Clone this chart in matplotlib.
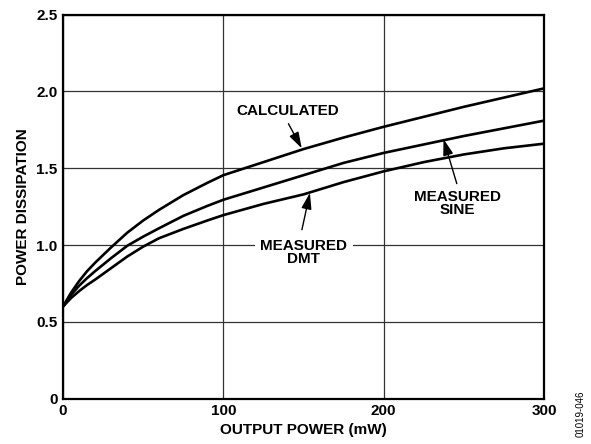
import matplotlib.pyplot as plt

plt.rcParams['font.family'] = ['Liberation Sans', 'DejaVu Sans']

output_mw = [0, 5, 10, 15, 20, 30, 40, 50, 60, 75, 90, 100, 125, 150, 175, 200, 225, 250, 275, 300]
calculated = [0.6, 0.69, 0.765, 0.83, 0.885, 0.985, 1.08, 1.16, 1.23, 1.325, 1.405, 1.455, 1.54, 1.625,
              1.70, 1.77, 1.835, 1.90, 1.96, 2.02]
measured_sine = [0.6, 0.675, 0.735, 0.785, 0.83, 0.915, 0.995, 1.055, 1.11, 1.19, 1.255, 1.295, 1.375,
                 1.455, 1.535, 1.60, 1.655, 1.71, 1.76, 1.81]
measured_dmt = [0.6, 0.655, 0.70, 0.74, 0.775, 0.85, 0.925, 0.99, 1.045, 1.105, 1.16, 1.195, 1.268,
                1.33, 1.41, 1.48, 1.54, 1.59, 1.63, 1.66]

x_ticks = [0, 100, 200, 300]
y_ticks = [0, 0.5, 1.0, 1.5, 2.0, 2.5]
y_tick_labels = ['0', '0.5', '1.0', '1.5', '2.0', '2.5']

fig = plt.figure(figsize=(5.91, 4.44), dpi=100)
ax = fig.add_axes([0.1066, 0.102, 0.8139, 0.865])

for series in [calculated, measured_sine, measured_dmt]:
    ax.plot(output_mw, series, color='black', lw=1.9, solid_capstyle='round',
            solid_joinstyle='round', zorder=3)

ax.set_xlim(0, 300)
ax.set_ylim(0, 2.5)
ax.set_xticks(x_ticks)
ax.set_yticks(y_ticks)
ax.set_yticklabels(y_tick_labels)
ax.tick_params(length=0, labelsize=11, pad=4)
for lbl in ax.get_xticklabels() + ax.get_yticklabels():
    lbl.set_fontweight('bold')
ax.grid(True, color='#333333', lw=0.9, zorder=1)
for spine in ax.spines.values():
    spine.set_linewidth(1.6)
    spine.set_zorder(4)

ax.set_xlabel('OUTPUT POWER (mW)', fontsize=11, fontweight='bold')
ax.set_ylabel('POWER DISSIPATION', fontsize=11, fontweight='bold')
ax.xaxis.set_label_coords(0.5, -0.064)
ax.yaxis.set_label_coords(-0.069, 0.5)

arrow = dict(arrowstyle='-|>,head_length=0.7,head_width=0.22', color='black', lw=1.0,
             mutation_scale=14, shrinkA=0, shrinkB=0)

ax.text(140, 1.87, 'CALCULATED', ha='center', va='center', fontsize=11, fontweight='bold', zorder=5)
ax.annotate('', xy=(148.9, 1.63), xytext=(140.6, 1.79), arrowprops=arrow, zorder=5)

ax.text(246, 1.27, 'MEASURED\nSINE', ha='center', va='center', fontsize=11, fontweight='bold',
        linespacing=0.92, zorder=5)
ax.annotate('', xy=(237.3, 1.69), xytext=(245.6, 1.40), arrowprops=arrow, zorder=5)

ax.text(150, 0.952, 'MEASURED\nDMT', ha='center', va='center', fontsize=11, fontweight='bold',
        linespacing=0.92, zorder=5,
        bbox=dict(facecolor='white', edgecolor='none', pad=4))
ax.annotate('', xy=(154, 1.34), xytext=(149, 1.10), arrowprops=arrow, zorder=5)

fig.text(0.982, 0.015, '01019-046', rotation=90, fontsize=7, ha='center', va='bottom')

fig.savefig('out.png', dpi=100)
